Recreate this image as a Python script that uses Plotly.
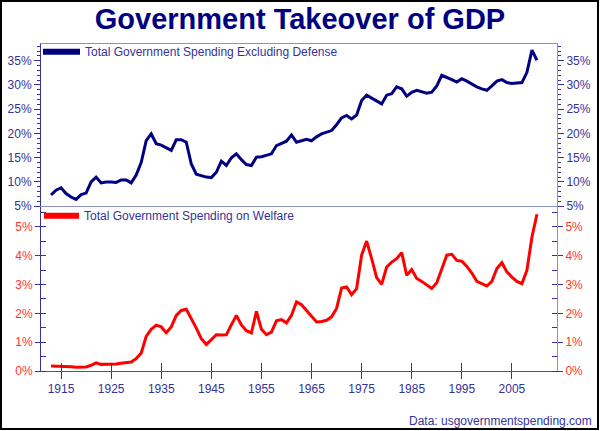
import plotly.graph_objects as go

years = list(range(1913, 2011))

spending_ex_defense = [
    7.3, 8.3, 8.8, 7.6, 6.9, 6.4, 7.4, 7.7, 10.0, 11.0,   # 1913-1922
    9.8, 10.0, 10.0, 9.9, 10.4, 10.4, 9.8, 11.4, 14.0, 18.5,  # 1923-1932
    19.9, 17.9, 17.6, 17.0, 16.5, 18.7, 18.7, 18.2, 13.7, 11.6,  # 1933-1942
    11.3, 11.0, 10.9, 12.0, 14.3, 13.4, 15.0, 15.8, 14.6, 13.6,  # 1943-1952
    13.4, 15.1, 15.2, 15.5, 15.8, 17.5, 18.0, 18.4, 19.7, 18.2,  # 1953-1962
    18.5, 18.8, 18.5, 19.3, 19.9, 20.3, 20.6, 21.8, 23.2, 23.7,  # 1963-1972
    23.0, 23.8, 26.8, 27.9, 27.3, 26.7, 26.1, 27.9, 28.2, 29.6,  # 1973-1982
    29.2, 27.7, 28.5, 28.9, 28.6, 28.3, 28.5, 29.8, 32.0, 31.6,  # 1983-1992
    31.1, 30.6, 31.3, 30.8, 30.2, 29.6, 29.2, 28.9, 29.8, 30.8,  # 1993-2002
    31.1, 30.5, 30.3, 30.4, 30.5, 32.6, 37.2, 35.1,              # 2003-2010
]

spending_welfare = [
    0.17, 0.17, 0.17, 0.17, 0.15, 0.13, 0.13, 0.14, 0.20, 0.28,  # 1913-1922
    0.23, 0.23, 0.23, 0.24, 0.27, 0.28, 0.31, 0.43, 0.62, 1.20,  # 1923-1932
    1.45, 1.59, 1.53, 1.33, 1.53, 1.93, 2.10, 2.14, 1.82, 1.49,  # 1933-1942
    1.12, 0.92, 1.09, 1.26, 1.25, 1.26, 1.60, 1.93, 1.60, 1.40,  # 1943-1952
    1.32, 2.07, 1.45, 1.26, 1.35, 1.74, 1.78, 1.67, 1.93, 2.40,  # 1953-1962
    2.30, 2.10, 1.90, 1.70, 1.72, 1.76, 1.88, 2.17, 2.88, 2.92,  # 1963-1972
    2.65, 2.86, 4.02, 4.51, 3.90, 3.24, 3.01, 3.61, 3.78, 3.90,  # 1973-1982
    4.11, 3.32, 3.52, 3.21, 3.11, 3.00, 2.86, 3.06, 3.56, 4.02,  # 1983-1992
    4.05, 3.84, 3.81, 3.63, 3.40, 3.11, 3.03, 2.95, 3.11, 3.56,  # 1993-2002
    3.76, 3.44, 3.26, 3.11, 3.03, 3.50, 4.65, 5.44,              # 2003-2010
]

x_tick_years = [1915, 1925, 1935, 1945, 1955, 1965, 1975, 1985, 1995, 2005]
series_names = ["Total Government Spending Excluding Defense",
                "Total Government Spending on Welfare"]
title_text = "Government Takeover of GDP"
source_text = "Data: usgovernmentspending.com"

NAVY = "#000080"
AXIS_DARK = "#333399"
AXIS_LIGHT = "#8f8fc8"
RED = "#ff0000"
LABEL_RED = "#ff3333"
FONT = "Liberation Sans, Arial, sans-serif"

W, H = 600, 431
ML, MR, MT, MB = 41, 43, 44, 60
PW, PH = W - ML - MR, H - MT - MB
SPLIT = 0.504
X_RANGE = [1911, 2014]
UP_RANGE = [5, 38.45]
LO_RANGE = [0, 5.72]


def px_to_paper_x(px):
    return (px - ML) / PW


def px_to_paper_y(py):
    return (H - MB - py) / PH


fig = go.Figure()

# data lines
fig.add_trace(go.Scatter(x=years, y=spending_ex_defense, mode="lines",
                         line=dict(color=NAVY, width=3), xaxis="x2", yaxis="y",
                         showlegend=False, hoverinfo="x+y"))
fig.add_trace(go.Scatter(x=years, y=spending_welfare, mode="lines",
                         line=dict(color=RED, width=3), xaxis="x", yaxis="y2",
                         showlegend=False, hoverinfo="x+y"))

# legend entries (thick swatches)
fig.add_trace(go.Scatter(x=[None], y=[None], mode="lines", name=series_names[0],
                         line=dict(color=NAVY, width=6), xaxis="x2", yaxis="y",
                         legend="legend", hoverinfo="skip"))
fig.add_trace(go.Scatter(x=[None], y=[None], mode="lines", name=series_names[1],
                         line=dict(color=RED, width=6), xaxis="x", yaxis="y2",
                         legend="legend2", hoverinfo="skip"))

# empty traces to realise overlay axes
for xa, ya in [("x2", "y3"), ("x", "y4"), ("x3", "y2")]:
    fig.add_trace(go.Scatter(x=[None], y=[None], xaxis=xa, yaxis=ya,
                             showlegend=False, hoverinfo="skip"))

tickfont_blue = dict(family=FONT, size=12, color=AXIS_DARK)
tickfont_red = dict(family=FONT, size=12, color=LABEL_RED)

upper_common = dict(range=UP_RANGE, domain=[SPLIT, 1], tickmode="linear", tick0=5, dtick=5,
                    ticksuffix="%", ticks="outside", ticklen=6, tickcolor=AXIS_DARK,
                    minor=dict(tickmode="linear", tick0=0, dtick=1, ticks="outside",
                               ticklen=3, tickcolor=AXIS_DARK),
                    showgrid=False, zeroline=False, showline=True, linewidth=1,
                    tickfont=tickfont_blue, fixedrange=True)
lower_common = dict(range=LO_RANGE, domain=[0, SPLIT], tickmode="linear", tick0=0, dtick=1,
                    ticksuffix="%", ticks="outside", ticklen=5, tickcolor=AXIS_DARK,
                    minor=dict(tickmode="linear", tick0=0, dtick=0.5, ticks="inside",
                               ticklen=5, tickcolor=AXIS_DARK),
                    showgrid=False, zeroline=False, showline=True, linewidth=1,
                    tickfont=tickfont_red, fixedrange=True)

fig.update_layout(
    width=W, height=H,
    margin=dict(l=ML, r=MR, t=MT, b=MB, pad=0, autoexpand=False),
    paper_bgcolor="white", plot_bgcolor="white",
    font=dict(family=FONT, size=12, color=AXIS_DARK),
    title=dict(text=title_text, x=0.5, xanchor="center", xref="container",
               y=1 - 19 / H, yanchor="middle", yref="container",
               font=dict(family=FONT, size=29, color=NAVY, weight="bold")),
    xaxis=dict(domain=[0, 1], anchor="y2", range=X_RANGE, tickmode="array",
               tickvals=x_tick_years, ticks="outside", ticklen=7, tickcolor=AXIS_DARK,
               showline=True, linecolor="#4d4da6", linewidth=1, showgrid=False,
               zeroline=False, tickfont=tickfont_blue, fixedrange=True, tickangle=0),
    xaxis2=dict(domain=[0, 1], anchor="y", range=X_RANGE, showline=True, mirror=True,
                linecolor=AXIS_LIGHT, linewidth=1, ticks="", showticklabels=False,
                showgrid=False, zeroline=False, fixedrange=True),
    xaxis3=dict(domain=[0, 1], anchor="y2", overlaying="x", range=X_RANGE, tickmode="array",
                tickvals=x_tick_years, ticks="inside", ticklen=8, tickcolor=AXIS_DARK,
                showticklabels=False, showline=False, showgrid=False, zeroline=False,
                fixedrange=True),
    yaxis=dict(anchor="x2", side="left", linecolor=AXIS_DARK, **upper_common),
    yaxis3=dict(anchor="x2", side="right", overlaying="y", linecolor=AXIS_LIGHT, **upper_common),
    yaxis2=dict(anchor="x", side="left", linecolor=AXIS_DARK, **lower_common),
    yaxis4=dict(anchor="x", side="right", overlaying="y2", linecolor=AXIS_LIGHT, **lower_common),
    legend=dict(xref="paper", yref="paper", x=px_to_paper_x(38), xanchor="left",
                y=px_to_paper_y(51.7), yanchor="middle", itemwidth=37, bgcolor="rgba(0,0,0,0)",
                borderwidth=0, font=dict(family=FONT, size=12, color=AXIS_DARK)),
    legend2=dict(xref="paper", yref="paper", x=px_to_paper_x(39), xanchor="left",
                 y=px_to_paper_y(215.7), yanchor="middle", itemwidth=35, bgcolor="rgba(0,0,0,0)",
                 borderwidth=0, font=dict(family=FONT, size=12, color=AXIS_DARK)),
    showlegend=True,
    annotations=[dict(text=source_text, xref="paper", yref="paper",
                      x=px_to_paper_x(594), xanchor="right",
                      y=px_to_paper_y(421), yanchor="middle",
                      showarrow=False, font=dict(family=FONT, size=12, color=AXIS_DARK))],
    shapes=[dict(type="rect", xref="paper", yref="paper",
                 x0=px_to_paper_x(1), x1=px_to_paper_x(598),
                 y0=px_to_paper_y(429), y1=px_to_paper_y(1),
                 line=dict(color="black", width=2), fillcolor="rgba(0,0,0,0)",
                 layer="above")],
)

fig.write_html("out.html")
